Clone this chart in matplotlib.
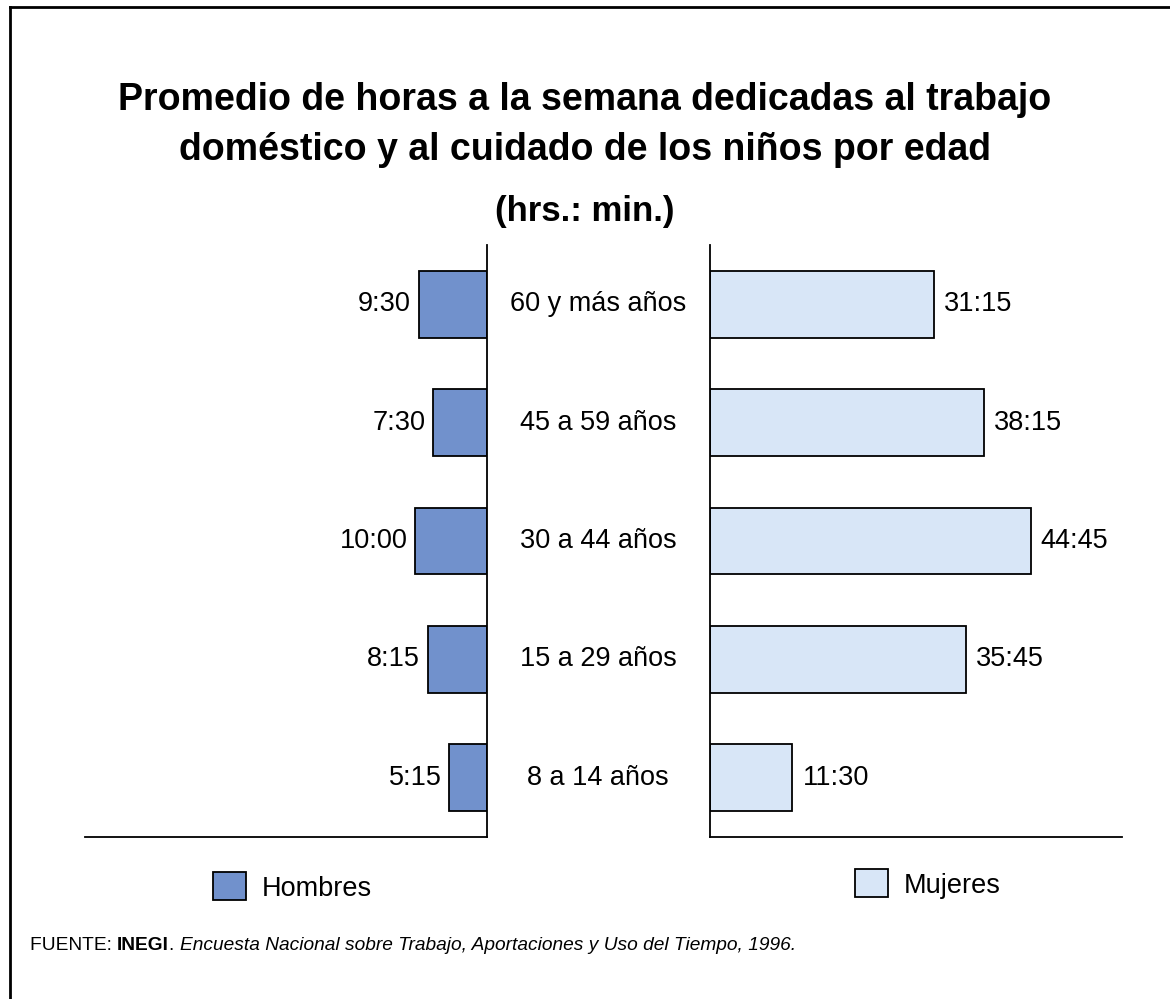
import numpy as np
import matplotlib
matplotlib.use("Agg")
import matplotlib.pyplot as plt
from matplotlib.transforms import blended_transform_factory
from matplotlib.lines import Line2D

plt.rcParams['font.family'] = ['Liberation Sans', 'DejaVu Sans']

# Datos (horas decimales a partir de hrs:min)
edades = ["60 y más años", "45 a 59 años", "30 a 44 años", "15 a 29 años", "8 a 14 años"]
hombres_txt = ["9:30", "7:30", "10:00", "8:15", "5:15"]
mujeres_txt = ["31:15", "38:15", "44:45", "35:45", "11:30"]


def a_horas(s):
    h, m = s.split(":")
    return int(h) + int(m) / 60.0


hombres = [a_horas(s) for s in hombres_txt]
mujeres = [a_horas(s) for s in mujeres_txt]

col_h = "#7191cc"
col_m = "#d8e6f7"

W, H = 1170, 999
fig = plt.figure(figsize=(W / 100, H / 100), dpi=100)
fig.patch.set_facecolor("white")


def fx(px):
    return px / W


def fy(py):
    return 1 - py / H


ax_l = fig.add_axes([fx(85), fy(837), fx(487) - fx(85), fy(245) - fy(837)])
ax_r = fig.add_axes([fx(710), fy(837), fx(1122) - fx(710), fy(245) - fy(837)])

y = np.arange(len(edades))
alto = 0.565

bl = ax_l.barh(y, hombres, height=alto, color=col_h, edgecolor="black", linewidth=1.3)
br = ax_r.barh(y, mujeres, height=alto, color=col_m, edgecolor="black", linewidth=1.3)

ax_l.set_xlim(56.1, 0)
ax_r.set_xlim(0, 57.5)
for ax in (ax_l, ax_r):
    ax.set_ylim(4.5, -0.5)
    ax.set_xticks([])
    ax.set_yticks([])
    ax.spines['top'].set_visible(False)
    ax.spines['bottom'].set_linewidth(1.3)
ax_l.spines['left'].set_visible(False)
ax_l.spines['right'].set_linewidth(1.3)
ax_r.spines['right'].set_visible(False)
ax_r.spines['left'].set_linewidth(1.3)

# etiquetas de valores
for i in range(len(edades)):
    ax_l.annotate(hombres_txt[i], (hombres[i], y[i]), xytext=(-8, 0), textcoords="offset pixels",
                  ha="right", va="center", fontsize=19.5)
    ax_r.annotate(mujeres_txt[i], (mujeres[i], y[i]), xytext=(10, 0), textcoords="offset pixels",
                  ha="left", va="center", fontsize=19.5)

# categorías en medio
tr = blended_transform_factory(fig.transFigure, ax_l.transData)
for i, e in enumerate(edades):
    ax_l.text(fx(598), y[i], e, transform=tr, ha="center", va="center", fontsize=19.5, clip_on=False)

# títulos
fig.text(fx(585), fy(100), "Promedio de horas a la semana dedicadas al trabajo", ha="center", va="center",
         fontsize=27, fontweight="bold")
fig.text(fx(585), fy(150), "doméstico y al cuidado de los niños por edad", ha="center", va="center",
         fontsize=27, fontweight="bold")
fig.text(fx(585), fy(212), "(hrs.: min.)", ha="center", va="center", fontsize=25, fontweight="bold")

# leyendas
fig.legend(handles=[bl], labels=["Hombres"], loc="center left", bbox_to_anchor=(fx(189), fy(887)),
           frameon=False, fontsize=19.5, handlelength=1.2, handleheight=1.2, handletextpad=0.6)
fig.legend(handles=[br], labels=["Mujeres"], loc="center left", bbox_to_anchor=(fx(831), fy(884)),
           frameon=False, fontsize=19.5, handlelength=1.2, handleheight=1.2, handletextpad=0.6)

# fuente
piezas = [("FUENTE: ", "normal", "normal"), ("INEGI", "bold", "normal"), (". ", "normal", "normal"),
          ("Encuesta Nacional sobre Trabajo, Aportaciones y Uso del Tiempo, 1996.", "normal", "italic")]
rend = fig.canvas.get_renderer()
x0 = fx(30)
for txt, peso, estilo in piezas:
    t = fig.text(x0, fy(945), txt, ha="left", va="center", fontsize=13.8, fontweight=peso, fontstyle=estilo)
    bb = t.get_window_extent(renderer=rend)
    x0 += bb.width / W

# marco (recortado: solo arriba e izquierda)
fig.add_artist(Line2D([fx(10), fx(10)], [fy(7), 0], color="black", lw=2))
fig.add_artist(Line2D([fx(10), 1], [fy(7), fy(7)], color="black", lw=2))

fig.savefig("out.png", dpi=100)
